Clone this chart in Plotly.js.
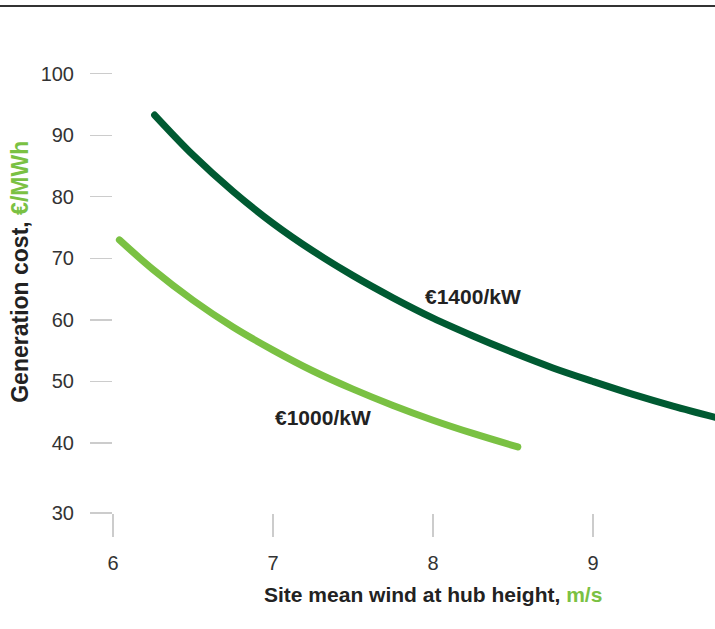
<!DOCTYPE html>
<html>
<head>
<meta charset="utf-8">
<script src="https://cdn.plot.ly/plotly-3.0.1.min.js"></script>
<style>html,body{margin:0;padding:0;background:#fff;}#chart{width:715px;height:629px;}
path.js-line{stroke-linecap:round;}</style>
</head>
<body>
<div id="chart"></div>
<script>
// Site mean wind at hub height (m/s) and generation cost (EUR/MWh)
const wind1400 = [6.26, 6.5, 6.75, 7.0, 7.25, 7.5, 7.75, 8.0, 8.25, 8.5, 8.75, 9.0, 9.25, 9.5, 9.76];
const cost1400 = [93.3, 86.8, 80.9, 75.7, 71.2, 67.2, 63.6, 60.3, 57.4, 54.7, 52.2, 50.0, 47.9, 46.0, 44.2];
const wind1000 = [6.04, 6.25, 6.5, 6.75, 7.0, 7.25, 7.5, 7.75, 8.0, 8.25, 8.53];
const cost1000 = [73.0, 68.2, 63.2, 58.85, 55.1, 51.7, 48.75, 46.1, 43.7, 41.55, 39.35];
const seriesNames = ["€1400/kW", "€1000/kW"];
const xTickVals = [6, 7, 8, 9];
const xTickText = ["6", "7", "8", "9"];
const yTickVals = [28.62, 40, 50, 60, 70, 80, 90, 100];
const yTickText = ["30", "40", "50", "60", "70", "80", "90", "100"];

const DARK = "#005a32", LIGHT = "#7ac143";
const FONT = "Liberation Sans, Arial, Helvetica, sans-serif";

const traces = [
  {x: wind1400, y: cost1400, mode: "lines", name: seriesNames[0],
   line: {color: DARK, width: 7, shape: "spline", smoothing: 1}, hoverinfo: "skip"},
  {x: wind1000, y: cost1000, mode: "lines", name: seriesNames[1],
   line: {color: LIGHT, width: 7, shape: "spline", smoothing: 1}, hoverinfo: "skip"}
];

const layout = {
  width: 715, height: 629,
  margin: {l: 113, r: 0, t: 40, b: 116},
  paper_bgcolor: "#fff", plot_bgcolor: "#fff",
  showlegend: false,
  font: {family: FONT, color: "#333"},
  xaxis: {range: [6, 9.7625], showgrid: false, zeroline: false, showline: false,
    tickmode: "array", tickvals: xTickVals, ticktext: xTickText,
    ticks: "outside", ticklen: 23, tickwidth: 1.2, tickcolor: "#cccccc",
    ticklabelstandoff: 9, tickfont: {size: 20, color: "#333"}},
  yaxis: {range: [28.62, 105.5], showgrid: false, zeroline: false, showline: false,
    tickmode: "array", tickvals: yTickVals, ticktext: yTickText,
    ticks: "outside", ticklen: 22, tickwidth: 1.2, tickcolor: "#cccccc",
    ticklabelstandoff: 12, tickfont: {size: 20, color: "#333"}},
  shapes: [
    {type: "line", xref: "paper", yref: "paper", x0: -0.2, x1: 1.01, y0: 1.0719, y1: 1.0719,
     line: {color: "#333", width: 2}}
  ],
  annotations: [
    {xref: "x", yref: "y", x: 8.0, y: 63.8, text: seriesNames[0], showarrow: false,
     font: {size: 21, color: "#222", weight: "bold"}, xanchor: "left", xshift: -10},
    {xref: "x", yref: "y", x: 7.0, y: 44.2, text: seriesNames[1], showarrow: false,
     font: {size: 21, color: "#222", weight: "bold"}, xanchor: "left", xshift: 0},
    {xref: "x", yref: "paper", x: 8.0, y: 0, yshift: -81, yanchor: "middle", xanchor: "center",
     text: "Site mean wind at hub height, <span style='color:" + LIGHT + "'>m/s</span>",
     showarrow: false, font: {size: 21, color: "#222", weight: "bold"}},
    {xref: "paper", yref: "paper", x: 0, xshift: -93, y: 0.51, textangle: -90,
     xanchor: "center", yanchor: "middle",
     text: "Generation cost, <span style='color:" + LIGHT + "'>€/MWh</span>",
     showarrow: false, font: {size: 23, color: "#222", weight: "bold"}}
  ]
};

Plotly.newPlot("chart", traces, layout, {staticPlot: true, displayModeBar: false});
</script>
</body>
</html>
